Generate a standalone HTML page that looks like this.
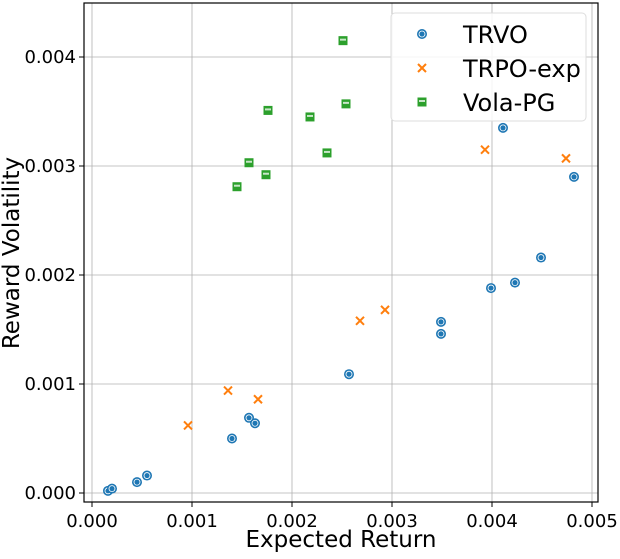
<!DOCTYPE html>
<html><head><meta charset="utf-8"><style>
body{margin:0;background:#fff;}
svg text{font-family:"DejaVu Sans","Liberation Sans",sans-serif;fill:#000;}
</style></head><body>
<svg id="chart" width="620" height="554" xmlns="http://www.w3.org/2000/svg">
<g id="grid"></g>
<g id="marks"></g>
<rect x="84" y="3" width="514" height="499" fill="none" stroke="#000" stroke-width="1.2"/>
<g id="ticks"></g>
<text x="341" y="547" font-size="23" text-anchor="middle">Expected Return</text>
<text transform="translate(19,253) rotate(-90)" font-size="23" text-anchor="middle">Reward Volatility</text>
<g>
<rect x="391" y="13" width="195" height="108" rx="4" fill="#fff" fill-opacity="0.85" stroke="#ddd"/>
<g id="legend-items"></g>
</g>
</svg>
<script>
const xTicks=[0,0.001,0.002,0.003,0.004,0.005];
const yTicks=[0,0.001,0.002,0.003,0.004];
const xTickLabels=["0.000","0.001","0.002","0.003","0.004","0.005"];
const yTickLabels=["0.000","0.001","0.002","0.003","0.004"];
const trvoX=[0.00016,0.0002,0.00045,0.00055,0.0014,0.00157,0.00163,0.00257,0.00349,0.00349,0.00399,0.00423,0.00449,0.00411,0.00482];
const trvoY=[0.00002,0.00004,0.0001,0.00016,0.0005,0.00069,0.00064,0.00109,0.00157,0.00146,0.00188,0.00193,0.00216,0.00335,0.0029];
const trpoX=[0.00096,0.00136,0.00166,0.00268,0.00293,0.00393,0.00474];
const trpoY=[0.00062,0.00094,0.00086,0.00158,0.00168,0.00315,0.00307];
const volaX=[0.00145,0.00157,0.00174,0.00176,0.00218,0.00235,0.00251,0.00254];
const volaY=[0.00281,0.00303,0.00292,0.00351,0.00345,0.00312,0.00415,0.00357];
const sx=v=>92+v*100000, sy=v=>493-v*109000;
const NS="http://www.w3.org/2000/svg";
function mk(tag,attrs,parent){const e=document.createElementNS(NS,tag);for(const k in attrs)e.setAttribute(k,attrs[k]);parent.appendChild(e);return e;}
const grid=document.getElementById('grid'),ticks=document.getElementById('ticks'),marks=document.getElementById('marks');
xTicks.forEach((t,i)=>{
 const g=mk('line',{x1:sx(t),x2:sx(t),y1:3,y2:502,stroke:'#b0b0b0','stroke-width':0.8},grid);
 
 
 mk('line',{x1:sx(t),x2:sx(t),y1:502,y2:507,stroke:'#000'},ticks);
 const tx=mk('text',{x:sx(t),y:527,'font-size':18,'text-anchor':'middle'},ticks);tx.textContent=xTickLabels[i];
 
 
});
yTicks.forEach((t,i)=>{
 const g=mk('line',{x1:84,x2:598,y1:sy(t),y2:sy(t),stroke:'#b0b0b0','stroke-width':0.8},grid);
 
 
 mk('line',{x1:79,x2:84,y1:sy(t),y2:sy(t),stroke:'#000'},ticks);
 const tx=mk('text',{x:76,y:sy(t)+6,'font-size':18,'text-anchor':'end'},ticks);tx.textContent=yTickLabels[i];
 
 
});
function circ(x,y,p){const g=mk('g',{},p);mk('circle',{cx:x,cy:y,r:5,fill:'#1f77b4'},g);mk('circle',{cx:x,cy:y,r:3,fill:'none',stroke:'#fff','stroke-width':0.8},g);mk('circle',{cx:x,cy:y,r:1.5,fill:'#1f77b4'},g);return g;}
function cross(x,y,p){const g=mk('g',{stroke:'#ff7f0e','stroke-width':2},p);mk('line',{x1:x-4,y1:y-4,x2:x+4,y2:y+4},g);mk('line',{x1:x-4,y1:y+4,x2:x+4,y2:y-4},g);return g;}
function sq(x,y,p){const g=mk('g',{},p);mk('rect',{x:x-4.5,y:y-4.5,width:9,height:9,fill:'#2ca02c'},g);mk('rect',{x:x-3,y:y-2,width:6,height:2,fill:'#c8e6c8'},g);return g;}
trvoX.forEach((v,i)=>{const m=circ(sx(v),sy(trvoY[i]),marks);
 
 });
trpoX.forEach((v,i)=>{const m=cross(sx(v),sy(trpoY[i]),marks);
 
 });
volaX.forEach((v,i)=>{const m=sq(sx(v),sy(volaY[i]),marks);
 
 });
const li=document.getElementById('legend-items');
const names=["TRVO","TRPO-exp","Vola-PG"],fns=[circ,cross,sq];
names.forEach((n,i)=>{const y=34+i*34;const m=fns[i](422,y,li);
 
 
 const t=mk('text',{x:463,y:y+9,'font-size':24},li);t.textContent=n;
 
 });
</script>
</body></html>
